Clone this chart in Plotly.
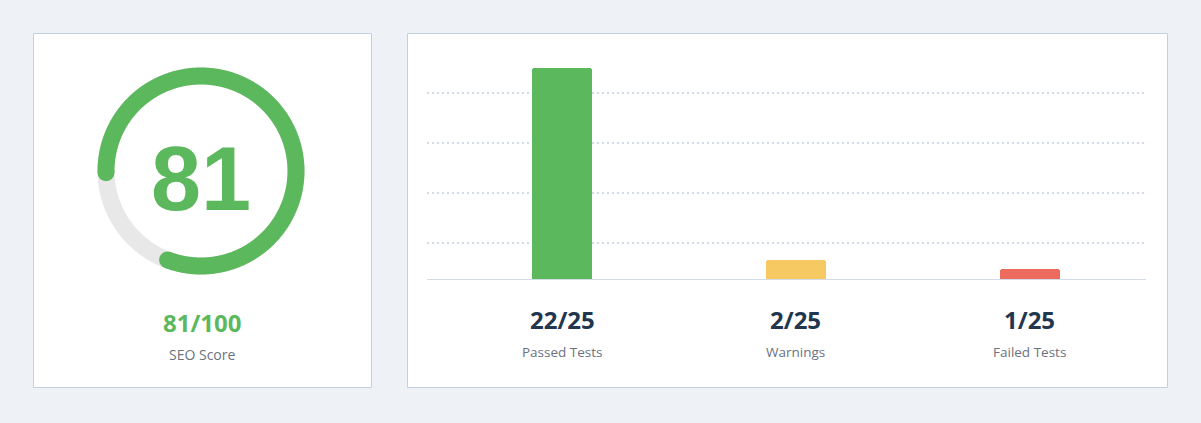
import numpy as np
import plotly.graph_objects as go

# ---------------- data ----------------
score = 81
score_max = 100
score_label = "SEO Score"

categories = ["Passed Tests", "Warnings", "Failed Tests"]
counts = [22, 2, 1]
total_tests = 25
bar_colors = ["#5cb85c", "#f7c963", "#ec6a5e"]

# ---------------- style ----------------
W, H = 1201, 423
BG = "#eef2f7"
CARD_BORDER = "#c2d0e2"
GREEN = "#5cb85c"
TRACK = "#e8e8e8"
NAVY = "#22364f"
GREY_TXT = "#6b7280"


def px(x):
    return x / W


def py(y):
    return 1 - y / H


fig = go.Figure()

# ---------------- gauge (axes x3/y3, 1 data unit = 1 pixel) ----------------
R = 95
LW = 17
start_deg = 181.0
theta_track = np.radians(np.linspace(0, 360, 721))
fig.add_trace(go.Scatter(
    x=R * np.cos(theta_track), y=R * np.sin(theta_track),
    mode="lines", line=dict(color=TRACK, width=LW, simplify=False),
    hoverinfo="skip", xaxis="x3", yaxis="y3", showlegend=False))

span = 360.0 * score / score_max
theta = np.radians(np.linspace(start_deg, start_deg - span, 600))
fig.add_trace(go.Scatter(
    x=R * np.cos(theta), y=R * np.sin(theta),
    mode="lines", line=dict(color=GREEN, width=LW, simplify=False),
    hoverinfo="skip", xaxis="x3", yaxis="y3", showlegend=False))
fig.add_trace(go.Scatter(
    x=[R * np.cos(theta[0]), R * np.cos(theta[-1])],
    y=[R * np.sin(theta[0]), R * np.sin(theta[-1])],
    mode="markers", marker=dict(color=GREEN, size=LW, line=dict(width=0)),
    hoverinfo="skip", xaxis="x3", yaxis="y3", showlegend=False))

# ---------------- bar chart ----------------
xs = list(range(len(categories)))
fig.add_trace(go.Bar(
    x=xs, y=counts, marker=dict(color=bar_colors, line=dict(width=0), cornerradius=3),
    width=0.256, hovertext=categories, showlegend=False))

# ---------------- layout ----------------
gx0, gx1 = 91, 311
gy0, gy1 = 61, 281
bx0, bx1 = 427, 1146
by_top, by_base = 49, 279
px_per_unit = 9.6
y_top_val = (by_base - by_top) / px_per_unit

fig.update_layout(
    width=W, height=H,
    margin=dict(l=0, r=0, t=0, b=0),
    paper_bgcolor=BG, plot_bgcolor="rgba(0,0,0,0)",
    bargap=0,
    xaxis=dict(domain=[px(bx0), px(bx1)], range=[-0.577, 2.496],
               showticklabels=False, showgrid=False, zeroline=False,
               showline=True, linecolor="#d3dce7", linewidth=1, ticks=""),
    yaxis=dict(domain=[py(by_base), py(by_top)], range=[0, y_top_val],
               showticklabels=False, zeroline=False, showline=False,
               showgrid=True, gridcolor="#d2dae5", gridwidth=1.6, griddash="1.6px,3.4px",
               tick0=36 / px_per_unit, dtick=50 / px_per_unit),
    xaxis3=dict(domain=[px(gx0), px(gx1)], range=[-110, 110], visible=False),
    yaxis3=dict(domain=[py(gy1), py(gy0)], range=[-110, 110], visible=False),
    shapes=[
        dict(type="rect", xref="paper", yref="paper",
             x0=px(33.5), x1=px(371.5), y0=py(387.5), y1=py(33.5),
             fillcolor="white", line=dict(color=CARD_BORDER, width=1), layer="below"),
        dict(type="rect", xref="paper", yref="paper",
             x0=px(407.5), x1=px(1167.5), y0=py(387.5), y1=py(33.5),
             fillcolor="white", line=dict(color=CARD_BORDER, width=1), layer="below"),
    ],
)

annotations = [
    dict(text=f"<b>{score}</b>", x=0, y=-8, xref="x3", yref="y3", showarrow=False,
         font=dict(family="Liberation Sans, Arial", size=90, color=GREEN),
         xanchor="center", yanchor="middle"),
    dict(text=f"<b>{score}/{score_max}</b>", x=px(202), y=py(322), xref="paper", yref="paper",
         showarrow=False, font=dict(family="Open Sans", size=24, color=GREEN),
         xanchor="center", yanchor="middle"),
    dict(text=score_label, x=px(202), y=py(354), xref="paper", yref="paper",
         showarrow=False, font=dict(family="Open Sans", size=14, color=GREY_TXT),
         xanchor="center", yanchor="middle"),
]
for i, (cat, v) in enumerate(zip(categories, counts)):
    annotations.append(dict(text=f"<b>{v}/{total_tests}</b>", x=i, y=py(319.5), xref="x", yref="paper",
                            showarrow=False, font=dict(family="Open Sans", size=24, color=NAVY),
                            xanchor="center", yanchor="middle"))
    annotations.append(dict(text=cat, x=i, y=py(351.5), xref="x", yref="paper",
                            showarrow=False, font=dict(family="Open Sans", size=13.5, color=GREY_TXT),
                            xanchor="center", yanchor="middle"))
fig.update_layout(annotations=annotations)

fig.write_html("out.html", config={"displayModeBar": False},
               post_script="document.body.style.margin='0';")
